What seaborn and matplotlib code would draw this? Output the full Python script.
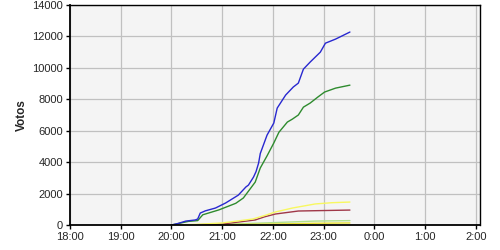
import matplotlib
matplotlib.use("Agg")
import matplotlib.pyplot as plt
import seaborn as sns
import pandas as pd

# minutes after 20:00 and vote counts
blue_t = [0, 8, 17, 28, 31, 34, 40, 52, 64, 79, 88, 91, 97, 100, 103, 105, 113, 121, 125, 135, 144, 150, 156, 164, 176, 182, 194, 211]
blue_v = [0, 100, 250, 320, 380, 760, 900, 1080, 1400, 1900, 2420, 2540, 3050, 3400, 3940, 4550, 5720, 6490, 7440, 8270, 8780, 9030, 9920, 10370, 11000, 11570, 11830, 12280]

green_t = [0, 20, 31, 37, 56, 76, 85, 99, 105, 113, 121, 127, 137, 143, 150, 156, 164, 173, 181, 194, 211]
green_v = [0, 230, 280, 650, 960, 1380, 1720, 2730, 3630, 4400, 5220, 5900, 6550, 6740, 7000, 7500, 7760, 8140, 8460, 8710, 8900]

yellow_t = [0, 30, 60, 96, 110, 123, 143, 170, 190, 211]
yellow_v = [0, 40, 130, 380, 600, 830, 1080, 1340, 1420, 1460]

red_t = [0, 30, 60, 99, 110, 123, 150, 180, 211]
red_v = [0, 20, 60, 320, 520, 700, 890, 920, 950]

lgreen_t = [0, 60, 120, 170, 211]
lgreen_v = [0, 40, 150, 250, 280]

lyellow_t = [0, 60, 120, 170, 211]
lyellow_v = [0, 20, 60, 110, 130]

x_ticks = [18, 19, 20, 21, 22, 23, 24, 25, 26]
x_labels = ["18:00", "19:00", "20:00", "21:00", "22:00", "23:00", "0:00", "1:00", "2:00"]
y_ticks = [0, 2000, 4000, 6000, 8000, 10000, 12000, 14000]

series = [
    (lgreen_t, lgreen_v, "#b0e08a"),
    (lyellow_t, lyellow_v, "#e8e030"),
    (red_t, red_v, "#a03848"),
    (yellow_t, yellow_v, "#f8f860"),
    (green_t, green_v, "#2e8b2e"),
    (blue_t, blue_v, "#2828d0"),
]

sns.set_style("white")
plt.rcParams["font.family"] = ["Liberation Sans", "DejaVu Sans"]

fig = plt.figure(figsize=(5, 2.5), dpi=100)
ax = fig.add_axes([0.14, 0.1, 0.82, 0.88])
ax.set_facecolor("#f4f4f4")

for t, v, c in series:
    df = pd.DataFrame({"h": [20 + m / 60 for m in t], "v": v})
    sns.lineplot(data=df, x="h", y="v", ax=ax, color=c, linewidth=1.0, estimator=None)

ax.set_xlim(18, 26.08)
ax.set_ylim(0, 14000)
ax.set_xticks(x_ticks)
ax.set_xticklabels(x_labels)
ax.set_yticks(y_ticks)
ax.set_yticklabels([str(y) for y in y_ticks])
ax.grid(True, color="#c0c0c0", linewidth=0.9)
ax.set_axisbelow(True)
for s in ax.spines.values():
    s.set_color("black")
    s.set_linewidth(1.0)
ax.spines["left"].set_linewidth(1.3)
ax.spines["bottom"].set_linewidth(1.3)
ax.tick_params(axis="both", which="major", length=3, width=1, color="black",
               labelsize=8, direction="out", left=True, bottom=True, pad=2)
ax.set_xlabel("")
ax.set_ylabel("Votos", fontsize=8.5, fontweight="bold", labelpad=3)

fig.savefig("out.png", dpi=100)
